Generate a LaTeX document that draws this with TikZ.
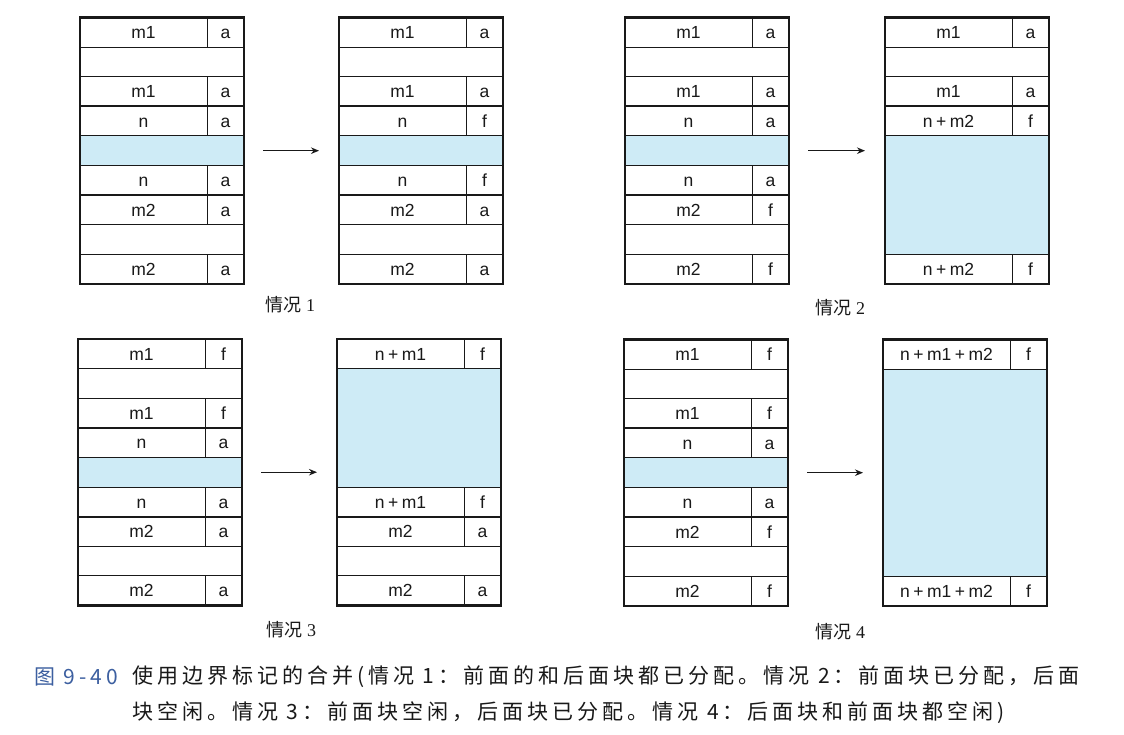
\documentclass[tikz,border=0pt]{standalone}
\usepackage{fontspec}
\setmainfont{Liberation Sans}
\newfontfamily\cjk{Noto Sans CJK SC}
\newfontfamily\cjkcap[LetterSpace=19]{Noto Sans CJK SC}
\newfontfamily\serifdigits{Liberation Serif}
\usetikzlibrary{arrows.meta}
\definecolor{ink}{RGB}{25,25,25}
\definecolor{payloadblue}{RGB}{206,235,246}
\definecolor{capblue}{RGB}{60,95,160}
\newcommand\plusgap{\kern3.5pt+\kern3.5pt}
\newcommand\rowh{29.6}
\tikzset{
  thinline/.style={draw=ink, line width=0.9pt},
  thickline/.style={draw=ink, line width=2pt},
  payload/.style={fill=payloadblue},
  frame/.style={draw=ink, line width=2.2pt, rectangle, inner sep=0pt, outer sep=0pt, minimum width=164pt, minimum height=266.4pt, anchor=north west},
  sizetext/.style={font=\fontsize{17.5}{20}\selectfont, text=ink, inner sep=0pt, anchor=base},
  tagtext/.style={font=\fontsize{17.5}{20}\selectfont, text=ink, inner sep=0pt, anchor=base},
  arrowline/.style={draw=ink, line width=1.3pt, -{Stealth[length=8pt,width=6.5pt]}, shorten <=19pt, shorten >=20pt},
  caselabel/.style={font=\fontsize{18}{21}\selectfont, text=ink, inner sep=0pt},
  captext/.style={font=\cjkcap\fontsize{21}{24}\selectfont, text=ink, inner sep=0pt, anchor=west}
}
% header/footer cell: #1 x, #2 top y, #3 size text, #4 tag, #5 name
\newcommand\hcell[5]{%
  \node[sizetext] (#5s) at ({#1+63.5},{#2+21}) {#3};
  \node[tagtext] (#5t) at ({#1+145.5},{#2+21}) {#4};
  \draw[thinline] ({#1+127},{#2}) -- ({#1+127},{#2+\rowh});
}
% standard 9-row block: #1 x, #2 y, #3 name, #4-#9 tags
\newcommand\stdblock[9]{%
  \fill[payload] (#1,{#2+4*\rowh}) rectangle ({#1+164},{#2+5*\rowh});
  \foreach \i in {1,2,4,5,7,8} \draw[thinline] (#1,{#2+\i*\rowh}) -- ({#1+164},{#2+\i*\rowh});
  \hcell{#1}{#2}{m1}{#4}{#3r0}
  \hcell{#1}{#2+2*\rowh}{m1}{#5}{#3r2}
  \hcell{#1}{#2+3*\rowh}{n}{#6}{#3r3}
  \hcell{#1}{#2+5*\rowh}{n}{#7}{#3r5}
  \hcell{#1}{#2+6*\rowh}{m2}{#8}{#3r6}
  \hcell{#1}{#2+8*\rowh}{m2}{#9}{#3r8}
  \draw[thickline] (#1,{#2+3*\rowh}) -- ({#1+164},{#2+3*\rowh});
  \draw[thickline] (#1,{#2+6*\rowh}) -- ({#1+164},{#2+6*\rowh});
  \node[frame] (#3) at (#1,#2) {};
}
\begin{document}
\begin{tikzpicture}[x=1pt,y=-1pt]
\useasboundingbox[fill=white] (0,0) rectangle (1124,735);

% ---------- Case 1 ----------
\stdblock{80}{17.5}{CaL}{a}{a}{a}{a}{a}{a}
\stdblock{339}{17.5}{CaR}{a}{a}{f}{f}{a}{a}
\draw[arrowline] (CaL.east) -- (CaR.west);
\node[caselabel] (lab1) at (290,305) {{\cjk 情况}~{\serifdigits 1}};

% ---------- Case 2 ----------
\stdblock{625}{17.5}{CbL}{a}{a}{a}{a}{f}{f}
% right block of case 2
\fill[payload] (885,{17.5+4*\rowh}) rectangle (1049,{17.5+8*\rowh});
\foreach \i in {1,2,4,8} \draw[thinline] (885,{17.5+\i*\rowh}) -- (1049,{17.5+\i*\rowh});
\hcell{885}{17.5}{m1}{a}{CbRr0}
\hcell{885}{17.5+2*\rowh}{m1}{a}{CbRr2}
\hcell{885}{17.5+3*\rowh}{n\plusgap m2}{f}{CbRr3}
\hcell{885}{17.5+8*\rowh}{n\plusgap m2}{f}{CbRr8}
\draw[thickline] (885,{17.5+3*\rowh}) -- (1049,{17.5+3*\rowh});
\node[frame] (CbR) at (885,17.5) {};
\draw[arrowline] (CbL.east) -- (CbR.west);
\node[caselabel] (lab2) at (840,308) {{\cjk 情况}~{\serifdigits 2}};

% ---------- Case 3 ----------
\stdblock{78}{339}{CcL}{f}{f}{a}{a}{a}{a}
% right block of case 3
\fill[payload] (337,{339+1*\rowh}) rectangle (501,{339+5*\rowh});
\foreach \i in {1,5,7,8} \draw[thinline] (337,{339+\i*\rowh}) -- (501,{339+\i*\rowh});
\hcell{337}{339}{n\plusgap m1}{f}{CcRr0}
\hcell{337}{339+5*\rowh}{n\plusgap m1}{f}{CcRr5}
\hcell{337}{339+6*\rowh}{m2}{a}{CcRr6}
\hcell{337}{339+8*\rowh}{m2}{a}{CcRr8}
\draw[thickline] (337,{339+6*\rowh}) -- (501,{339+6*\rowh});
\node[frame] (CcR) at (337,339) {};
\draw[arrowline] (CcL.east) -- (CcR.west);
\node[caselabel] (lab3) at (291,630) {{\cjk 情况}~{\serifdigits 3}};

% ---------- Case 4 ----------
\stdblock{624}{339.5}{CdL}{f}{f}{a}{a}{f}{f}
% right block of case 4
\fill[payload] (883,{339.5+1*\rowh}) rectangle (1047,{339.5+8*\rowh});
\foreach \i in {1,8} \draw[thinline] (883,{339.5+\i*\rowh}) -- (1047,{339.5+\i*\rowh});
\hcell{883}{339.5}{n\plusgap m1\plusgap m2}{f}{CdRr0}
\hcell{883}{339.5+8*\rowh}{n\plusgap m1\plusgap m2}{f}{CdRr8}
\node[frame] (CdR) at (883,339.5) {};
\draw[arrowline] (CdL.east) -- (CdR.west);
\node[caselabel] (lab4) at (840,632) {{\cjk 情况}~{\serifdigits 4}};

% ---------- Caption ----------
\node[captext, text=capblue] (fignum) at (34,677) {图 9-40};
\node[captext] (cap1) at (132,677) {使用边界标记的合并(情况 1：前面的和后面块都已分配。情况 2：前面块已分配，后面};
\node[captext] (cap2) at (132,713) {块空闲。情况 3：前面块空闲，后面块已分配。情况 4：后面块和前面块都空闲)};
\end{tikzpicture}
\end{document}
